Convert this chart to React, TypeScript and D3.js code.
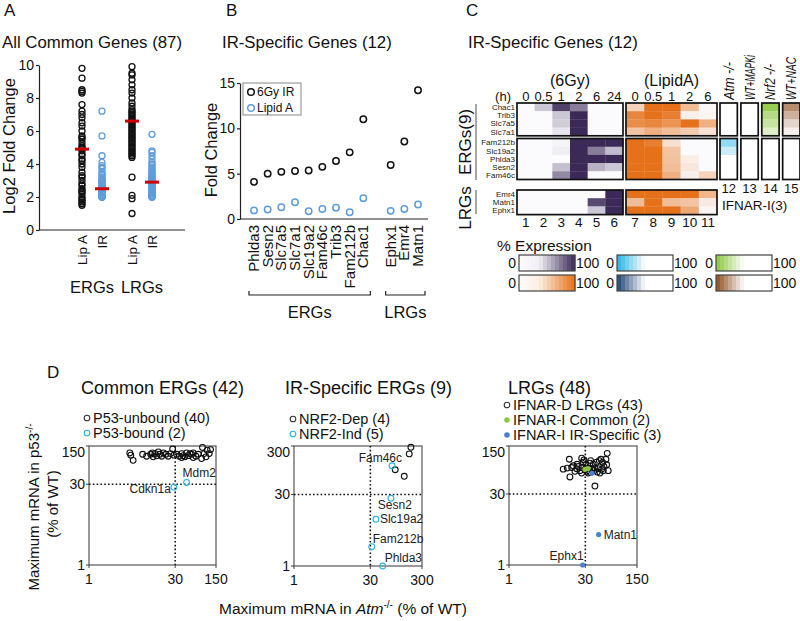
import React, { useEffect, useRef } from 'react';
import * as d3 from 'd3';

const FONT = '"Liberation Sans", Arial, Helvetica, sans-serif';
const INK = '#111';
const BLUE = '#5f9ddb';
const CYAN = '#27b4e6';

// ---------- Panel A : all common genes ----------
const groupsA = ['ERGs', 'LRGs'];
const condsA = ['Lip A', 'IR'];
const ticksA = [0, 2, 4, 6, 8, 10];
const ergLipA = [9.8, 9.2, 8.5, 8.4, 8.3, 7.6, 7.2, 7.0, 6.8, 6.5, 6.3, 6.0, 5.7, 5.6, 5.5, 5.3, 5.1, 5.0, 4.9, 4.8, 4.6, 4.5, 4.3, 4.2, 4.0, 3.8, 3.5, 3.3, 3.2, 3.0, 2.8, 2.7, 2.5, 2.4, 2.3, 2.2, 2.0, 1.9, 1.8, 1.7, 1.6, 1.5];
const ergIR = [7.2, 5.7, 4.5, 4.1, 3.9, 3.8, 3.7, 3.5, 3.4, 3.3, 3.2, 3.1, 3.0, 3.0, 2.9, 2.9, 2.8, 2.7, 2.7, 2.6, 2.6, 2.5, 2.5, 2.5, 2.4, 2.4, 2.3, 2.3, 2.3, 2.2, 2.2, 2.2, 2.1, 2.1, 2.1, 2.1, 2.0, 2.0, 2.0, 2.0, 2.0, 2.0];
const lrgLipA = [9.9, 9.5, 9.4, 9.1, 8.8, 8.5, 8.3, 8.0, 7.7, 7.5, 7.3, 7.2, 7.1, 7.0, 6.9, 6.8, 6.7, 6.6, 6.6, 6.5, 6.4, 6.3, 6.2, 6.1, 6.0, 5.9, 5.8, 5.7, 5.6, 5.5, 5.4, 5.3, 5.2, 5.1, 5.0, 4.9, 4.8, 4.7, 4.6, 4.5, 4.4, 3.2, 2.1, 1.9, 1.0];
const lrgIR = [5.8, 4.8, 4.7, 4.5, 4.3, 4.1, 4.0, 3.9, 3.8, 3.7, 3.6, 3.5, 3.4, 3.4, 3.3, 3.2, 3.2, 3.1, 3.0, 3.0, 2.9, 2.9, 2.9, 2.8, 2.8, 2.7, 2.7, 2.6, 2.6, 2.6, 2.5, 2.5, 2.4, 2.4, 2.3, 2.3, 2.3, 2.2, 2.2, 2.1, 2.1, 2.0, 2.0, 2.0, 2.0];
const mediansA = [4.9, 2.5, 6.6, 2.9];
const seriesA = [
  { group: 'ERGs', cond: 'Lip A', values: ergLipA, median: mediansA[0] },
  { group: 'ERGs', cond: 'IR', values: ergIR, median: mediansA[1] },
  { group: 'LRGs', cond: 'Lip A', values: lrgLipA, median: mediansA[2] },
  { group: 'LRGs', cond: 'IR', values: lrgIR, median: mediansA[3] },
];

// ---------- Panel B : IR-specific genes ----------
const ergGenesB = ['Phlda3', 'Sesn2', 'Slc7a5', 'Slc7a1', 'Slc19a2', 'Fam46c', 'Trib3', 'Fam212b', 'Chac1'];
const lrgGenesB = ['Ephx1', 'Emr4', 'Matn1'];
const irFoldB = [4.1, 5.0, 5.2, 5.3, 5.35, 5.75, 6.4, 7.35, 11.0, 5.95, 8.55, 14.2];
const lipidFoldB = [0.95, 1.05, 1.3, 1.85, 0.85, 1.1, 1.25, 0.75, 2.3, 0.9, 1.1, 1.6];
const ticksB = [0, 5, 10, 15];

// ---------- Panel C : heat map ----------
const ergGenesC1 = ['Chac1', 'Trib3', 'Slc7a5', 'Slc7a1'];
const ergGenesC2 = ['Fam212b', 'Slc19a2', 'Phlda3', 'Sesn2', 'Fam46c'];
const lrgGenesC = ['Emr4', 'Matn1', 'Ephx1'];
const hoursIR = ['0', '0.5', '1', '2', '6', '24'];
const hoursLipidA = ['0', '0.5', '1', '2', '6'];
const irExpr: Record<string, number[]> = {
  Chac1: [0, 25, 88, 60, 0, 0],
  Trib3: [0, 0, 25, 100, 0, 0],
  Slc7a5: [0, 0, 22, 100, 0, 0],
  Slc7a1: [0, 0, 10, 100, 0, 0],
  Fam212b: [0, 0, 3, 100, 100, 100],
  Slc19a2: [0, 0, 6, 100, 60, 30],
  Phlda3: [0, 0, 0, 100, 100, 100],
  Sesn2: [0, 0, 28, 100, 35, 25],
  Fam46c: [0, 0, 55, 100, 0, 0],
  Emr4: [0, 0, 0, 0, 0, 100],
  Matn1: [0, 0, 0, 0, 85, 100],
  Ephx1: [0, 0, 0, 0, 25, 100],
};
const lipidExpr: Record<string, number[]> = {
  Chac1: [30, 100, 100, 45, 3],
  Trib3: [85, 100, 90, 8, 5],
  Slc7a5: [80, 85, 75, 100, 55],
  Slc7a1: [40, 55, 45, 35, 18],
  Fam212b: [100, 90, 20, 0, 0],
  Slc19a2: [100, 100, 40, 0, 0],
  Phlda3: [100, 100, 42, 10, 0],
  Sesn2: [100, 100, 45, 15, 0],
  Fam46c: [100, 100, 55, 8, 28],
  Emr4: [100, 100, 100, 100, 50],
  Matn1: [45, 100, 45, 40, 12],
  Ephx1: [100, 100, 100, 60, 5],
};
const mutantConds = ['Atm', 'MAPKi', 'Nrf2', 'NAC'];
const mutantHeaders = ['Atm -/-', 'WT+MAPKi', 'Nrf2 -/-', 'WT+NAC'];
const ergGenesC = [...ergGenesC1, ...ergGenesC2];
const atmPct = [100, 100, 100, 100, 25, 38, 100, 100, 100];
const mapkiPct = [100, 100, 100, 100, 100, 100, 100, 100, 100];
const nrf2Pct = [5, 18, 26, 36, 100, 100, 100, 100, 100];
const nacPct = [18, 28, 38, 46, 100, 100, 100, 100, 100];
const mutantPct: Record<string, number[]> = { Atm: atmPct, MAPKi: mapkiPct, Nrf2: nrf2Pct, NAC: nacPct };

// ---------- Panel D : scatter plots ----------
const commonUnbound: [number, number][] = [
  [5.0, 112], [5.2, 102], [5.7, 82], [8.3, 106], [9.7, 97.5], [11.4, 106], [12.6, 95], [13.5, 109], [14.4, 99], [15.4, 117],
  [16.4, 106], [17.6, 97.5], [18.8, 112], [20.8, 106], [22.8, 97.5], [25, 109], [27.1, 132], [28.5, 102], [31.7, 106], [35.2, 97.5],
  [38.6, 109], [41.2, 100], [44, 95], [47, 112], [50.2, 100], [53.6, 109], [57.3, 106], [61, 112], [68, 97.5], [74.5, 106],
  [85, 88.5], [88, 141], [94, 109], [101, 95], [106, 126], [115, 109], [121, 129], [61, 92], [12.2, 112], [38.6, 92],
];
const commonBound: [number, number, string][] = [[28.5, 26.5, 'Cdkn1a'], [47, 32.3, 'Mdm2']];
const nrf2Dep: [number, number][] = [[183, 282], [170, 206], [91, 97], [136, 71]];
const nrf2Ind: [number, number, string][] = [[79, 117, 'Fam46c'], [75, 25, 'Sesn2'], [38.5, 9.2, 'Slc19a2'], [32, 2.5, 'Fam212b'], [52, 1, 'Phlda3']];
const ifnarD: [number, number][] = [
  [79.6, 211], [14.7, 159], [25.5, 167], [75.2, 159], [38, 149], [55.8, 149], [60.2, 159], [27.4, 138], [77.6, 122], [17.5, 116],
  [11.2, 99], [13.4, 104], [20.4, 101], [23.6, 92], [29.5, 96], [34.2, 104], [39.8, 101], [46, 104], [53.4, 101], [62.1, 98],
  [83.3, 92], [21.9, 112], [26.2, 107], [31.8, 89], [36.9, 85], [44, 92], [51, 86], [15.1, 68], [46, 44], [30.8, 122],
  [42.7, 125], [68.8, 112], [18.9, 89], [25.5, 82], [57.5, 82], [16.3, 107], [28.2, 154], [49.7, 138], [64.9, 136], [36.9, 132],
  [20.9, 125], [34.2, 82], [66.7, 92],
];
const ifnarCommon: [number, number][] = [[29.5, 98], [33.8, 102]];
const ifnarIRSpecific: [number, number, string][] = [[40.3, 81, ''], [54.3, 4.3, 'Matn1'], [26.6, 1, 'Ephx1']];

type Sel = any;

function addText(g: Sel, x: number, y: number, s: string, size: number, anchor = 'start', opt: any = {}) {
  const t = g.append('text').attr('font-size', size).attr('text-anchor', anchor).attr('fill', opt.fill || INK).text(s);
  if (opt.rotate) t.attr('transform', `translate(${x},${y}) rotate(-90)`);
  else t.attr('x', x).attr('y', y);
  if (opt.italic) t.attr('font-style', 'italic');
  return t;
}

function styleAxis(ax: Sel, size: number) {
  ax.attr('font-family', FONT).attr('font-size', size);
  ax.selectAll('line,path').attr('stroke', '#222').attr('stroke-width', 1.2);
  ax.selectAll('text').attr('fill', INK);
}

function drawPanelA(svg: Sel) {
  const g = svg.append('g');
  addText(g, 4, 16, 'A', 17);
  addText(g, 2, 48, 'All Common Genes (87)', 16.8);
  const y = d3.scaleLinear().domain([0, 10]).range([230, 65]);
  const xg = d3.scaleBand<string>().domain(groupsA).range([67, 167]);
  const xc = d3.scalePoint<string>().domain(condsA).range([15, 35]);
  const ax = g.append('g').attr('transform', 'translate(39,0)')
    .call(d3.axisLeft(y).tickValues(ticksA).tickSize(3).tickSizeOuter(0).tickPadding(2));
  styleAxis(ax, 14);
  g.append('line').attr('x1', 39).attr('x2', 185).attr('y1', 230).attr('y2', 230).attr('stroke', '#222').attr('stroke-width', 1.2);
  addText(g, 15, 146, 'Log2 Fold Change', 16.5, 'middle', { rotate: true });
  seriesA.forEach((s) => {
    const cx = (xg(s.group) as number) + (xc(s.cond) as number);
    g.append('g').selectAll('circle').data(s.values).join('circle')
      .attr('cx', cx).attr('cy', (d: number) => y(d)).attr('r', 3)
      .attr('fill', 'none').attr('stroke', s.cond === 'IR' ? BLUE : INK).attr('stroke-width', 1.3);
    g.append('line').attr('x1', cx - 7).attr('x2', cx + 7).attr('y1', y(s.median)).attr('y2', y(s.median))
      .attr('stroke', '#d00000').attr('stroke-width', 3);
    addText(g, cx + 4.5, 235, s.cond, 13.5, 'end', { rotate: true });
  });
  groupsA.forEach((gr) => addText(g, (xg(gr) as number) + 25, 293, gr, 16.5, 'middle'));
}

function drawPanelB(svg: Sel) {
  const g = svg.append('g');
  addText(g, 226, 16, 'B', 17);
  addText(g, 222, 48, 'IR-Specific Genes (12)', 16.8);
  const genes = [...ergGenesB, ...lrgGenesB];
  const slots = [...ergGenesB, 'gap', ...lrgGenesB];
  const x = d3.scalePoint<string>().domain(slots).range([254, 418]);
  const y = d3.scaleLinear().domain([0, 15]).range([219, 83]);
  const ax = g.append('g').attr('transform', 'translate(240,0)')
    .call(d3.axisLeft(y).tickValues(ticksB).tickSize(3).tickSizeOuter(0).tickPadding(2));
  styleAxis(ax, 14);
  g.append('line').attr('x1', 240).attr('x2', 428).attr('y1', 219).attr('y2', 219).attr('stroke', '#222').attr('stroke-width', 1.2);
  addText(g, 217, 150, 'Fold Change', 16.5, 'middle', { rotate: true });

  const series = [
    { name: '6Gy IR', values: irFoldB, color: INK },
    { name: 'Lipid A', values: lipidFoldB, color: BLUE },
  ];
  series.forEach((s) => {
    g.append('g').selectAll('circle').data(genes).join('circle')
      .attr('cx', (d: string) => x(d) as number).attr('cy', (_d: string, i: number) => y(s.values[i])).attr('r', 3.2)
      .attr('fill', 'none').attr('stroke', s.color).attr('stroke-width', 1.5);
  });
  genes.forEach((gn) => addText(g, (x(gn) as number) + 5, 225, gn, 15, 'end', { rotate: true }));

  // legend
  g.append('rect').attr('x', 243).attr('y', 83).attr('width', 58).attr('height', 32)
    .attr('fill', '#fff').attr('stroke', '#888').attr('stroke-width', 1);
  series.forEach((s, i) => {
    g.append('circle').attr('cx', 251).attr('cy', 92 + i * 16).attr('r', 3.3).attr('fill', 'none')
      .attr('stroke', s.color).attr('stroke-width', 1.5);
    addText(g, 257, 96 + i * 16, s.name, 12);
  });

  // brackets
  const brackets = [
    { label: 'ERGs', genes: ergGenesB },
    { label: 'LRGs', genes: lrgGenesB },
  ];
  brackets.forEach((b) => {
    const x1 = (x(b.genes[0]) as number) - 5;
    const x2 = (x(b.genes[b.genes.length - 1]) as number) + 7;
    g.append('path').attr('d', `M${x1},291V295H${x2}V291`).attr('fill', 'none').attr('stroke', '#222').attr('stroke-width', 1.2);
    addText(g, (x1 + x2) / 2, 318, b.label, 16.5, 'middle');
  });
}

function drawPanelC(svg: Sel) {
  const g = svg.append('g');
  addText(g, 466, 16, 'C', 17);
  addText(g, 468, 48, 'IR-Specific Genes (12)', 16.8);

  const cellWhite = '#fbfbfd';
  const purple = d3.scaleLinear<string>().domain([0, 100]).range([cellWhite, '#3b2a57']);
  const orange = d3.scaleLinear<string>().domain([0, 100]).range([cellWhite, '#e5711b']);
  const mutColor: Record<string, string> = { Atm: CYAN, MAPKi: '#1d4576', Nrf2: '#8cc63f', NAC: '#8e4d1e' };
  const mutScale = (c: string) => d3.scaleLinear<string>().domain([0, 50, 100]).range([mutColor[c], '#ffffff', '#ffffff']).clamp(true);

  const xIR = d3.scaleBand<number>().domain(d3.range(hoursIR.length)).range([517, 623]);
  const xLA = d3.scaleBand<number>().domain(d3.range(hoursLipidA.length)).range([626, 717]);
  const xMut = d3.scaleBand<string>().domain(mutantConds).range([720, 800]).paddingInner(0.17);
  const rowH = 8.2;
  const blocks = [
    { genes: ergGenesC1, y0: 103, mutants: true },
    { genes: ergGenesC2, y0: 138.5, mutants: true },
    { genes: lrgGenesC, y0: 190, mutants: false },
  ];

  blocks.forEach((b) => {
    const yb = d3.scaleBand<string>().domain(b.genes).range([b.y0, b.y0 + b.genes.length * rowH]);
    const h = b.genes.length * rowH;
    b.genes.forEach((gn) => {
      irExpr[gn].forEach((v, i) => {
        g.append('rect').attr('x', xIR(i)).attr('y', yb(gn)).attr('width', xIR.bandwidth() + 0.3)
          .attr('height', yb.bandwidth() + 0.3).attr('fill', purple(v));
      });
      lipidExpr[gn].forEach((v, i) => {
        g.append('rect').attr('x', xLA(i)).attr('y', yb(gn)).attr('width', xLA.bandwidth() + 0.3)
          .attr('height', yb.bandwidth() + 0.3).attr('fill', orange(v));
      });
      addText(g, 515, (yb(gn) as number) + yb.bandwidth() / 2 + 2.8, gn, 8, 'end', { fill: '#222' });
      if (b.mutants) {
        mutantConds.forEach((c) => {
          const v = mutantPct[c][ergGenesC.indexOf(gn)];
          g.append('rect').attr('x', xMut(c)).attr('y', yb(gn)).attr('width', xMut.bandwidth())
            .attr('height', yb.bandwidth() + 0.3).attr('fill', mutScale(c)(v));
        });
      }
    });
    const frame = (x0: number, w: number) => g.append('rect').attr('x', x0).attr('y', b.y0).attr('width', w).attr('height', h)
      .attr('fill', 'none').attr('stroke', '#111').attr('stroke-width', 1.7);
    frame(517, 106);
    frame(626, 91);
    if (b.mutants) mutantConds.forEach((c) => frame(xMut(c) as number, xMut.bandwidth()));
  });

  // group labels on the left
  const groupLabels = [
    { label: 'ERGs(9)', y0: 104, y1: 180 },
    { label: 'LRGs', y0: 190, y1: 214 },
  ];
  groupLabels.forEach((gl) => {
    g.append('line').attr('x1', 476).attr('x2', 476).attr('y1', gl.y0).attr('y2', gl.y1).attr('stroke', '#888').attr('stroke-width', 1.5);
    addText(g, 471, (gl.y0 + gl.y1) / 2 + (gl.label === 'LRGs' ? 6 : 0), gl.label, 17, 'middle', { rotate: true });
  });

  // headers
  addText(g, 570, 86, '(6Gy)', 16, 'middle');
  addText(g, 671.5, 86, '(LipidA)', 16, 'middle');
  addText(g, 511, 101, '(h)', 13, 'end');
  hoursIR.forEach((hh, i) => addText(g, (xIR(i) as number) + xIR.bandwidth() / 2, 101, hh, 13, 'middle'));
  hoursLipidA.forEach((hh, i) => addText(g, (xLA(i) as number) + xLA.bandwidth() / 2, 101, hh, 13, 'middle'));
  const headerLen = [38, 45, 36, 43];
  mutantConds.forEach((c, i) => {
    const t = addText(g, (xMut(c) as number) + xMut.bandwidth() / 2 + 5, 100, mutantHeaders[i], 15, 'start', { rotate: true, italic: true });
    t.attr('textLength', headerLen[i]).attr('lengthAdjust', 'spacingAndGlyphs');
  });

  // column numbers
  hoursIR.forEach((_h, i) => addText(g, (xIR(i) as number) + xIR.bandwidth() / 2, 227, String(i + 1), 13.5, 'middle'));
  hoursLipidA.forEach((_h, i) => addText(g, (xLA(i) as number) + xLA.bandwidth() / 2, 227, String(i + 7), 13.5, 'middle'));
  mutantConds.forEach((c, i) => addText(g, (xMut(c) as number) + xMut.bandwidth() / 2, 192.5, String(i + 12), 13, 'middle'));
  addText(g, 722, 210, 'IFNAR-I(3)', 13.5);

  // legend
  addText(g, 497, 251, '% Expression', 15.5);
  const legendBars = [
    { x: 519, y: 255, scale: d3.scaleLinear<string>().domain([0, 36, 100]).range([cellWhite, '#f1eff4', '#3b2a57']) },
    { x: 519, y: 275, scale: d3.scaleLinear<string>().domain([0, 36, 100]).range([cellWhite, '#fbeee3', '#e5711b']) },
    { x: 617, y: 255, scale: mutScale('Atm') },
    { x: 617, y: 275, scale: mutScale('MAPKi') },
    { x: 716, y: 255, scale: mutScale('Nrf2') },
    { x: 716, y: 275, scale: mutScale('NAC') },
  ];
  const bw = 56, bh = 16, steps = 14;
  legendBars.forEach((lb) => {
    const xs = d3.scaleBand<number>().domain(d3.range(steps)).range([lb.x, lb.x + bw]);
    d3.range(steps).forEach((i) => {
      g.append('rect').attr('x', xs(i)).attr('y', lb.y).attr('width', xs.bandwidth() + 0.4).attr('height', bh)
        .attr('fill', lb.scale(((i + 0.5) / steps) * 100));
    });
    g.append('rect').attr('x', lb.x).attr('y', lb.y).attr('width', bw).attr('height', bh)
      .attr('fill', 'none').attr('stroke', '#444').attr('stroke-width', 1.2);
    addText(g, lb.x - 3, lb.y + 13, '0', 14, 'end');
    addText(g, lb.x + bw + 1, lb.y + 13, '100', 14, 'start');
  });
}

function drawScatter(g: Sel, cfg: any) {
  const { box } = cfg;
  const x = d3.scaleLog().domain(cfg.domain).range([box.x0, box.x1]);
  const y = d3.scaleLog().domain(cfg.domain).range([box.y1, box.y0]);
  addText(g, cfg.titleX, 394, cfg.title, 18);

  cfg.legend.forEach((l: any, i: number) => {
    const cy = cfg.legendY + i * 15;
    g.append('circle').attr('cx', cfg.legendX).attr('cy', cy).attr('r', 2.8)
      .attr('fill', l.filled ? l.color : 'none').attr('stroke', l.filled ? 'none' : l.color).attr('stroke-width', 1.1);
    addText(g, cfg.legendX + 6, cy + 5, l.label, 14.5);
  });

  g.append('rect').attr('x', box.x0).attr('y', box.y0).attr('width', box.x1 - box.x0).attr('height', box.y1 - box.y0)
    .attr('fill', 'none').attr('stroke', '#555').attr('stroke-width', 1.2);

  cfg.ticks.forEach((t: number, i: number) => {
    g.append('line').attr('x1', box.x0 - 3).attr('x2', box.x0).attr('y1', y(t)).attr('y2', y(t)).attr('stroke', '#444');
    g.append('line').attr('x1', x(t)).attr('x2', x(t)).attr('y1', box.y1).attr('y2', box.y1 + 3).attr('stroke', '#444');
    const ty = i === cfg.ticks.length - 1 ? y(t) + 6 : y(t);
    addText(g, box.x0 - 4, ty + 5, cfg.tickLabels[i], 14, 'end');
    addText(g, x(t), box.y1 + 19, cfg.tickLabels[i], 14, 'middle');
  });

  g.append('line').attr('x1', box.x0).attr('x2', box.x1).attr('y1', y(30)).attr('y2', y(30))
    .attr('stroke', '#111').attr('stroke-width', 1.6).attr('stroke-dasharray', '1.6,2.2');
  g.append('line').attr('x1', x(30)).attr('x2', x(30)).attr('y1', box.y0).attr('y2', box.y1)
    .attr('stroke', '#111').attr('stroke-width', 1.6).attr('stroke-dasharray', '1.6,2.2');

  cfg.series.forEach((s: any) => {
    g.append('g').selectAll('circle').data(s.points).join('circle')
      .attr('cx', (d: any) => x(d[0])).attr('cy', (d: any) => y(d[1])).attr('r', s.filled ? 2.6 : 2.9)
      .attr('fill', s.filled ? s.color : 'none').attr('stroke', s.filled ? 'none' : s.color).attr('stroke-width', 1.1);
    s.points.forEach((d: any) => {
      const off = cfg.labelOffsets[d[2]];
      if (d[2] && off) addText(g, x(d[0]) + off[0], y(d[1]) + off[1], d[2], 12, off[2], { fill: '#222' });
    });
  });
}

function drawPanelD(svg: Sel) {
  const g = svg.append('g');
  addText(g, 47, 378, 'D', 17);
  drawScatter(g, {
    title: 'Common ERGs (42)', titleX: 81,
    box: { x0: 89, x1: 216, y0: 446, y1: 565 }, domain: [1, 150],
    ticks: [1, 30, 150], tickLabels: ['1', '30', '150'],
    legendX: 87, legendY: 418,
    legend: [{ label: 'P53-unbound (40)', color: '#333' }, { label: 'P53-bound (2)', color: CYAN }],
    series: [{ points: commonUnbound, color: INK }, { points: commonBound, color: CYAN }],
    labelOffsets: { Mdm2: [-4, -5, 'start'], Cdkn1a: [-3, 6, 'end'] },
  });
  drawScatter(g, {
    title: 'IR-Specific ERGs (9)', titleX: 285,
    box: { x0: 294, x1: 422, y0: 446, y1: 566 }, domain: [1, 300],
    ticks: [1, 30, 300], tickLabels: ['1', '30', '300'],
    legendX: 293, legendY: 419,
    legend: [{ label: 'NRF2-Dep (4)', color: '#333' }, { label: 'NRF2-Ind (5)', color: CYAN }],
    series: [{ points: nrf2Dep, color: INK }, { points: nrf2Ind, color: CYAN }],
    labelOffsets: { Fam46c: [10, -4, 'end'], Sesn2: [4, 11, 'middle'], Slc19a2: [4, 4, 'start'], Fam212b: [1, -4, 'start'], Phlda3: [2, -4, 'start'] },
  });
  drawScatter(g, {
    title: 'LRGs (48)', titleX: 508,
    box: { x0: 509, x1: 637, y0: 446, y1: 565 }, domain: [1, 300],
    ticks: [1, 30, 300], tickLabels: ['1', '30', '150'],
    legendX: 507, legendY: 405,
    legend: [
      { label: 'IFNAR-D LRGs (43)', color: '#333' },
      { label: 'IFNAR-I Common (2)', color: '#8cc63f', filled: true },
      { label: 'IFNAR-I IR-Specific (3)', color: '#4a82d2', filled: true },
    ],
    series: [
      { points: ifnarD, color: INK },
      { points: ifnarCommon, color: '#8cc63f', filled: true },
      { points: ifnarIRSpecific, color: '#4a82d2', filled: true },
    ],
    labelOffsets: { Matn1: [5, 4, 'start'], Ephx1: [1, -5, 'end'] },
  });

  // shared axis titles
  const yl = g.append('text').attr('transform', 'translate(39,507) rotate(-90)').attr('text-anchor', 'middle')
    .attr('font-size', 15).attr('fill', INK);
  yl.append('tspan').text('Maximum mRNA in p53');
  yl.append('tspan').attr('dy', -6).attr('font-size', 10).text('-/-');
  addText(g, 58, 504, '(% of WT)', 15, 'middle', { rotate: true });

  const xl = g.append('text').attr('x', 343).attr('y', 614).attr('text-anchor', 'middle').attr('font-size', 15.5).attr('fill', INK);
  xl.append('tspan').text('Maximum mRNA in ');
  xl.append('tspan').attr('font-style', 'italic').text('Atm');
  xl.append('tspan').attr('dy', -6).attr('font-size', 10).text('-/-');
  xl.append('tspan').attr('dy', 6).text(' (% of WT)');
}

export default function App() {
  const ref = useRef<SVGSVGElement>(null);

  useEffect(() => {
    if (!ref.current) return;
    const svg = d3.select(ref.current);
    svg.selectAll('*').remove();
    svg.append('rect').attr('width', 800).attr('height', 621).attr('fill', '#fff');
    drawPanelA(svg);
    drawPanelB(svg);
    drawPanelC(svg);
    drawPanelD(svg);
  }, []);

  return (
    <svg
      ref={ref}
      width={800}
      height={621}
      fontFamily={FONT}
      style={{ position: 'absolute', left: 0, top: 0, display: 'block' }}
    />
  );
}
